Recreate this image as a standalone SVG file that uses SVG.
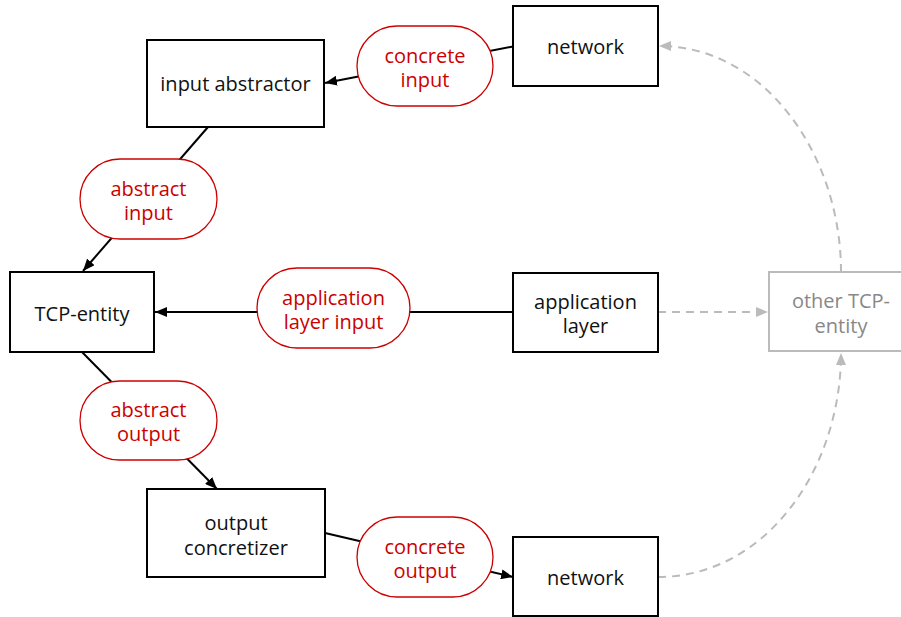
<svg xmlns="http://www.w3.org/2000/svg" width="901" height="617" viewBox="0 0 901 617">
<style>
.box{fill:#fff;stroke:#000;stroke-width:2}
.gbox{fill:#fff;stroke:#bbb;stroke-width:2}
.t{font-family:"Open Sans","Noto Sans",sans-serif;font-size:20px;fill:#111;text-anchor:middle;dominant-baseline:central}
.gt{fill:#888}
.rt{fill:#cc0000}
.lbl{fill:#fff;stroke:#cc0000;stroke-width:1.3}
.e{fill:none;stroke:#000;stroke-width:2}
.d{fill:none;stroke:#bbb;stroke-width:2;stroke-dasharray:8,6}
</style>
<defs>
<marker id="ab" viewBox="0 0 12 10" markerWidth="12" markerHeight="10" refX="12" refY="5" orient="auto" markerUnits="userSpaceOnUse"><path d="M0,0 L12,5 L0,10 z" fill="#000"/></marker>
<marker id="ag" viewBox="0 0 12 10" markerWidth="12" markerHeight="10" refX="12" refY="5" orient="auto" markerUnits="userSpaceOnUse"><path d="M0,0 L12,5 L0,10 z" fill="#bbb"/></marker>
</defs>
<rect width="901" height="617" fill="#fff"/>
<g id="connectors">
<line class="e" x1="513" y1="46.5" x2="325" y2="83" marker-end="url(#ab)"/>
<line class="e" x1="208" y1="127" x2="83" y2="271" marker-end="url(#ab)"/>
<line class="e" x1="513" y1="312" x2="155" y2="312" marker-end="url(#ab)"/>
<line class="e" x1="82" y1="352" x2="217" y2="489" marker-end="url(#ab)"/>
<line class="e" x1="325" y1="533" x2="513" y2="577" marker-end="url(#ab)"/>
<line class="d" x1="658" y1="312" x2="768" y2="312" marker-end="url(#ag)"/>
<path class="d" d="M658,577 C765,577 841,470 841,353" marker-end="url(#ag)"/>
<path class="d" d="M841,272 C841,155 765,46 659,46" marker-end="url(#ag)"/>
<g id="label-concrete-input"><rect class="lbl" x="357" y="26" width="136" height="80" rx="40"/><text class="t rt" x="425" y="55">concrete</text><text class="t rt" x="425" y="79">input</text></g>
<g id="label-abstract-input"><rect class="lbl" x="80" y="159" width="137" height="80" rx="40"/><text class="t rt" x="148.5" y="188">abstract</text><text class="t rt" x="148.5" y="212">input</text></g>
<g id="label-application-layer-input"><rect class="lbl" x="257" y="268" width="153" height="80" rx="40"/><text class="t rt" x="333.5" y="297">application</text><text class="t rt" x="333.5" y="321">layer input</text></g>
<g id="label-abstract-output"><rect class="lbl" x="80" y="381" width="137" height="79" rx="39.5"/><text class="t rt" x="148.5" y="409">abstract</text><text class="t rt" x="148.5" y="433">output</text></g>
<g id="label-concrete-output"><rect class="lbl" x="357" y="517" width="136" height="80" rx="40"/><text class="t rt" x="425" y="546">concrete</text><text class="t rt" x="425" y="570">output</text></g>
</g>
<g id="network-top"><rect class="box" x="513" y="6" width="145" height="80"/><text class="t" x="585.5" y="46">network</text></g>
<g id="input-abstractor"><rect class="box" x="147" y="40" width="177" height="87"/><text class="t" x="235.5" y="83">input abstractor</text></g>
<g id="tcp-entity"><rect class="box" x="10" y="272" width="144" height="80"/><text class="t" x="82" y="313">TCP-entity</text></g>
<g id="application-layer"><rect class="box" x="513" y="273" width="145" height="79"/><text class="t" x="585.5" y="301">application</text><text class="t" x="585.5" y="325">layer</text></g>
<g id="other-tcp-entity"><rect class="gbox" x="769" y="272" width="145" height="79"/><text class="t gt" x="841" y="300">other TCP-</text><text class="t gt" x="841" y="325">entity</text></g>
<g id="output-concretizer"><rect class="box" x="147" y="489" width="178" height="88"/><text class="t" x="236" y="522">output</text><text class="t" x="236" y="547">concretizer</text></g>
<g id="network-bottom"><rect class="box" x="513" y="537" width="145" height="79"/><text class="t" x="585.5" y="577">network</text></g>
</svg>
